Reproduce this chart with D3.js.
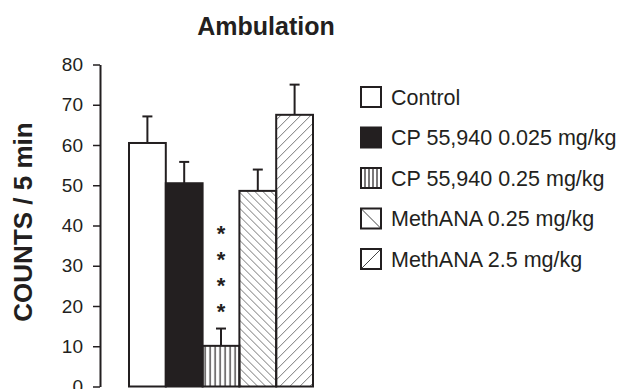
<!DOCTYPE html>
<html>
<head>
<meta charset="utf-8">
<script src="https://cdn.jsdelivr.net/npm/d3@7"></script>
<style>
  html, body { margin: 0; padding: 0; background: #fff; }
  svg { display: block; font-family: Arial, "Liberation Sans", Helvetica, sans-serif; }
</style>
</head>
<body>
<svg id="chart" width="620" height="389"></svg>
<script>
// Treatment groups, mean counts and upper error (SEM) per group
const categories = ["Control", "CP 55,940 0.025 mg/kg", "CP 55,940 0.25 mg/kg", "MethANA 0.25 mg/kg", "MethANA 2.5 mg/kg"];
const fills = ["none", "solid", "vertical", "backslash", "slash"];
const means = [60.5, 50.5, 10.1, 48.6, 67.5];
const errors = [6.6, 5.3, 4.3, 5.3, 7.5];
const stars = [0, 0, 4, 0, 0];
const yTicks = [0, 10, 20, 30, 40, 50, 60, 70, 80];

const ink = "#231f20";
const svg = d3.select("#chart");

const y = d3.scaleLinear().domain([0, 80]).range([386.5, 64.5]);
const x = d3.scaleBand().domain(categories).range([129, 313]).padding(0);

// hatch patterns
const defs = svg.append("defs");
function pattern(id, w, h, d, sw, col, px) {
  defs.append("pattern")
    .attr("id", id).attr("patternUnits", "userSpaceOnUse")
    .attr("width", w).attr("height", h).attr("x", px || 0).attr("y", 0)
    .append("path").attr("d", d)
    .attr("stroke", col).attr("stroke-width", sw).attr("fill", "none");
}
pattern("vertical", 5, 10, "M2.5,0V10", 1.2, ink, x(categories[2]));
pattern("backslash", 8, 8, "M0,0L8,8M-2,6L2,10M6,-2L10,2", 0.8, "#555", x(categories[3]));
pattern("slash", 10, 10, "M0,10L10,0M-2,2L2,-2M8,12L12,8", 0.8, "#555", x(categories[4]));

function fillOf(kind) {
  if (kind === "none") return "#fff";
  if (kind === "solid") return ink;
  return "url(#" + kind + ")";
}

// title
svg.append("text")
  .attr("x", 266).attr("y", 35)
  .attr("text-anchor", "middle")
  .attr("font-size", 25).attr("font-weight", "bold").attr("fill", ink)
  .text("Ambulation");

// y axis
const yAxis = d3.axisLeft(y).tickValues(yTicks).tickSize(7).tickSizeOuter(0).tickPadding(10);
const ga = svg.append("g").attr("transform", "translate(100,0)").call(yAxis);
ga.select(".domain").attr("stroke", ink).attr("stroke-width", 2);
ga.selectAll(".tick line").attr("stroke", ink).attr("stroke-width", 1.5);
ga.selectAll(".tick text").attr("font-size", 19).attr("fill", ink)
  .attr("font-family", "Arial, 'Liberation Sans', sans-serif");

svg.append("text")
  .attr("transform", "translate(32," + 222 + ") rotate(-90)")
  .attr("text-anchor", "middle")
  .attr("font-size", 26).attr("font-weight", "bold").attr("fill", ink)
  .text("COUNTS / 5 min");

// error bars (drawn behind the bars)
const eb = svg.append("g");
categories.forEach((c, i) => {
  const cx = x(c) + x.bandwidth() / 2;
  eb.append("line").attr("x1", cx).attr("x2", cx)
    .attr("y1", y(means[i])).attr("y2", y(means[i] + errors[i]))
    .attr("stroke", ink).attr("stroke-width", 2);
  eb.append("line").attr("x1", cx - 5).attr("x2", cx + 5)
    .attr("y1", y(means[i] + errors[i])).attr("y2", y(means[i] + errors[i]))
    .attr("stroke", ink).attr("stroke-width", 2);
});

// bars
svg.append("g").selectAll("rect").data(categories).join("rect")
  .attr("x", c => x(c))
  .attr("y", (c, i) => y(means[i]))
  .attr("width", x.bandwidth())
  .attr("height", (c, i) => y(0) - y(means[i]))
  .attr("fill", (c, i) => fillOf(fills[i]))
  .attr("stroke", ink).attr("stroke-width", 2);

// significance stars above the error bar
categories.forEach((c, i) => {
  const cx = x(c) + x.bandwidth() / 2;
  const top = y(means[i] + errors[i]);
  for (let k = 0; k < stars[i]; k++) {
    svg.append("text")
      .attr("x", cx).attr("y", top - 19 - k * 26 + 9)
      .attr("text-anchor", "middle")
      .attr("font-size", 22).attr("font-weight", "bold").attr("fill", ink)
      .text("*");
  }
});

// legend
const lg = svg.append("g");
const bs = 20;
categories.forEach((c, i) => {
  const cy = 97 + i * 40.5;
  const bx = 361, by = cy - bs / 2;
  const g = lg.append("g");
  g.append("rect").attr("x", bx).attr("y", by).attr("width", bs).attr("height", bs)
    .attr("fill", fills[i] === "solid" ? ink : "#fff");
  if (fills[i] === "vertical") {
    for (let k = 1; k < 5; k++) {
      g.append("line").attr("x1", bx + k * bs / 5).attr("x2", bx + k * bs / 5)
        .attr("y1", by).attr("y2", by + bs).attr("stroke", ink).attr("stroke-width", 1.2);
    }
  } else if (fills[i] === "backslash") {
    g.append("line").attr("x1", bx).attr("y1", by).attr("x2", bx + bs).attr("y2", by + bs)
      .attr("stroke", "#444").attr("stroke-width", 1);
  } else if (fills[i] === "slash") {
    g.append("line").attr("x1", bx).attr("y1", by + bs).attr("x2", bx + bs).attr("y2", by)
      .attr("stroke", "#444").attr("stroke-width", 1);
  }
  g.append("rect").attr("x", bx).attr("y", by).attr("width", bs).attr("height", bs)
    .attr("fill", "none").attr("stroke", ink).attr("stroke-width", 2);
  g.append("text").attr("x", 391).attr("y", cy + 7.5)
    .attr("font-size", 21.5).attr("fill", ink)
    .text(c);
});
</script>
</body>
</html>
